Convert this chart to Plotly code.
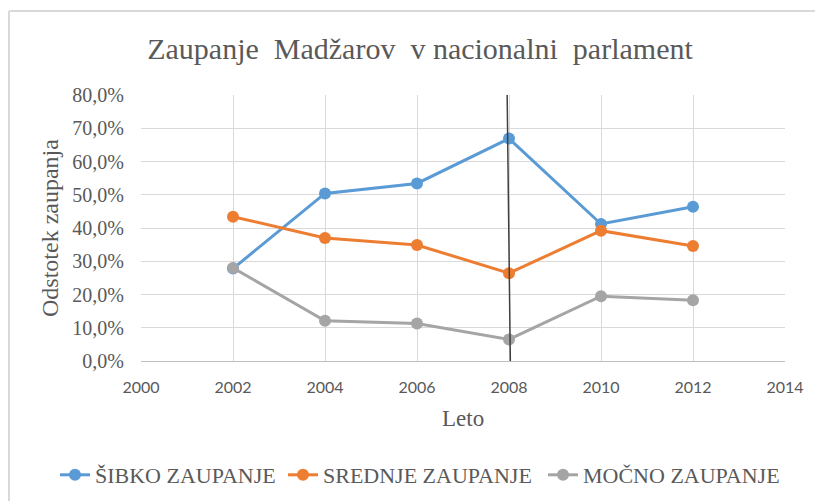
import plotly.graph_objects as go

years = [2002, 2004, 2006, 2008, 2010, 2012]
sibko = [0.278, 0.504, 0.534, 0.669, 0.412, 0.464]
srednje = [0.434, 0.370, 0.349, 0.264, 0.392, 0.346]
mocno = [0.280, 0.121, 0.113, 0.065, 0.195, 0.183]
series_names = ["ŠIBKO ZAUPANJE", "SREDNJE ZAUPANJE", "MOČNO ZAUPANJE"]
colors = ["#5B9BD5", "#ED7D31", "#A5A5A5"]
x_ticks = [2000, 2002, 2004, 2006, 2008, 2010, 2012, 2014]
y_ticks = [0, 0.1, 0.2, 0.3, 0.4, 0.5, 0.6, 0.7, 0.8]
marker_year = 2008

title_text = "Zaupanje  Madžarov  v nacionalni  parlament"
y_title = "Odstotek zaupanja"
x_title = "Leto"

serif = "Liberation Serif, Times New Roman, serif"
grey = "#595959"
grid = "#D9D9D9"

# page body has an 8px margin, so figure coords = screen coords - 8
W, H = 815, 493
L, R, T, B = 133, 38, 87, 140
PW, PH = W - L - R, H - T - B


def px_x(sx):
    return (sx - 8 - L) / PW


def px_y(sy):
    return (H - B - (sy - 8)) / PH


legend_ids = ["legend", "legend2", "legend3"]
legend_left = [55, 283, 543]  # screen px of each legend entry

fig = go.Figure()
for name, vals, col, lid in zip(series_names, [sibko, srednje, mocno], colors, legend_ids):
    fig.add_trace(go.Scatter(
        x=years, y=vals, name=name, mode="lines+markers",
        line=dict(color=col, width=3),
        marker=dict(color=col, size=12),
        legend=lid,
    ))

legend_layout = {}
for lid, lx in zip(legend_ids, legend_left):
    legend_layout[lid] = dict(
        orientation="h", xref="container", yref="container",
        x=(lx - 8) / W, xanchor="left", y=1 - (475 - 8) / H, yanchor="middle",
        font=dict(family=serif, size=22, color=grey),
        itemwidth=30, bgcolor="rgba(0,0,0,0)",
    )

fig.update_layout(
    width=W, height=H,
    margin=dict(l=L, r=R, t=T, b=B, autoexpand=False),
    paper_bgcolor="white", plot_bgcolor="white",
    separators=", ",
    showlegend=True,
    title=dict(text=title_text, x=(420 - 8) / W, xanchor="center", y=1 - (48 - 8) / H,
               yanchor="middle", yref="container",
               font=dict(family=serif, size=30, color=grey)),
    xaxis=dict(range=[2000, 2014], tickvals=x_ticks, showgrid=True,
               gridcolor=grid, gridwidth=1, zeroline=False,
               showline=True, linecolor="#BFBFBF", linewidth=1, mirror=False,
               ticks="", ticklabelstandoff=12,
               tickfont=dict(family="Lato, Carlito, sans-serif", size=16, color=grey)),
    yaxis=dict(range=[0, 0.8], tickvals=y_ticks, tickformat=".1%", showgrid=True,
               gridcolor=grid, gridwidth=1, zeroline=False, showline=False,
               ticks="", ticklabelstandoff=16,
               tickfont=dict(family=serif, size=20, color=grey)),
    annotations=[
        dict(text=y_title, xref="paper", yref="paper",
             x=px_x(50), y=0.5, xanchor="center", yanchor="middle",
             textangle=-90, showarrow=False,
             font=dict(family=serif, size=24, color=grey)),
        dict(text=x_title, xref="paper", yref="paper",
             x=0.5, y=px_y(418), xanchor="center", yanchor="middle",
             showarrow=False, font=dict(family=serif, size=23, color=grey)),
    ],
    shapes=[
        dict(type="line", xref="x", yref="y", x0=marker_year - 0.04, x1=marker_year + 0.03,
             y0=0.8, y1=-0.012, line=dict(color="#404040", width=1.5)),
        dict(type="line", xref="paper", yref="paper",
             x0=px_x(9), x1=px_x(830), y0=px_y(11), y1=px_y(11),
             line=dict(color="#D9D9D9", width=2), layer="below"),
        dict(type="line", xref="paper", yref="paper",
             x0=px_x(9), x1=px_x(9), y0=px_y(11), y1=px_y(510),
             line=dict(color="#D9D9D9", width=2), layer="below"),
    ],
    **legend_layout,
)

fig.write_html("out.html")
